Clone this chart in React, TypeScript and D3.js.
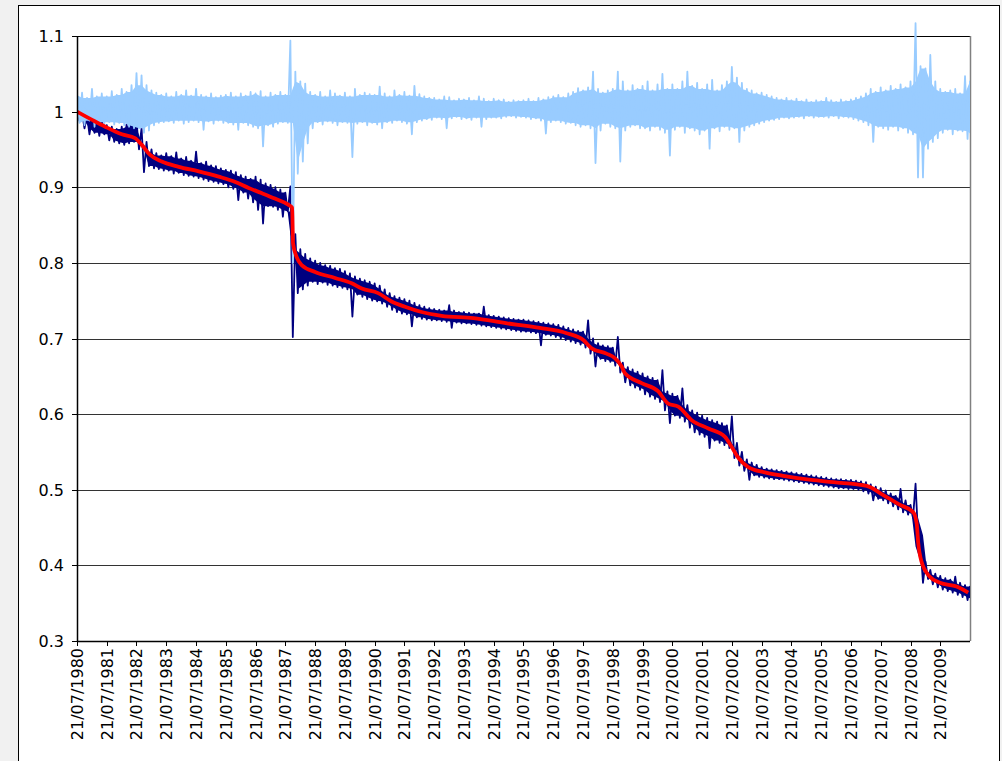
import React from "react";
import * as d3 from "d3";

// samples every 2 months from 21/07/1980: high at the sample, low one month later
const START = new Date(1980, 6, 21);
const END = new Date(2010, 6, 21);

const navyHigh = [
  1.002, 0.999, 0.995, 0.992, 0.990, 0.988,
  0.982, 0.980, 0.977, 0.980, 0.983, 0.986,
  0.987, 0.978, 0.960, 0.950, 0.945, 0.942,
  0.945, 0.941, 0.946, 0.938, 0.940, 0.935,
  0.947, 0.932, 0.934, 0.929, 0.928, 0.925,
  0.923, 0.922, 0.920, 0.916, 0.914, 0.911,
  0.914, 0.910, 0.905, 0.903, 0.900, 0.897,
  0.893, 0.901, 0.838, 0.818, 0.812, 0.806,
  0.803, 0.800, 0.797, 0.796, 0.793, 0.792,
  0.789, 0.786, 0.782, 0.779, 0.777, 0.775,
  0.773, 0.770, 0.765, 0.760, 0.756, 0.754,
  0.752, 0.750, 0.747, 0.744, 0.742, 0.740,
  0.739, 0.738, 0.737, 0.744, 0.737, 0.735,
  0.735, 0.734, 0.733, 0.733, 0.742, 0.731,
  0.730, 0.729, 0.728, 0.727, 0.726, 0.725,
  0.725, 0.724, 0.723, 0.722, 0.721, 0.720,
  0.719, 0.718, 0.716, 0.714, 0.712, 0.710,
  0.709, 0.724, 0.700, 0.694, 0.691, 0.690,
  0.688, 0.702, 0.668, 0.662, 0.659, 0.656,
  0.654, 0.650, 0.648, 0.645, 0.658, 0.630,
  0.627, 0.624, 0.634, 0.612, 0.605, 0.602,
  0.598, 0.595, 0.592, 0.590, 0.588, 0.585,
  0.597, 0.562, 0.550, 0.540, 0.536, 0.533,
  0.530, 0.528, 0.527, 0.526, 0.525, 0.524,
  0.523, 0.522, 0.521, 0.520, 0.519, 0.518,
  0.517, 0.516, 0.515, 0.514, 0.514, 0.513,
  0.513, 0.512, 0.511, 0.510, 0.507, 0.504,
  0.502, 0.499, 0.495, 0.492, 0.501, 0.486,
  0.480, 0.508, 0.425, 0.405, 0.394, 0.389,
  0.386, 0.383, 0.381, 0.385, 0.377, 0.374,
  0.372,
];

const navyLow = [
  0.988, 0.978, 0.970, 0.972, 0.968, 0.970,
  0.962, 0.960, 0.958, 0.956, 0.958, 0.960,
  0.950, 0.920, 0.928, 0.925, 0.924, 0.922,
  0.922, 0.918, 0.919, 0.916, 0.915, 0.914,
  0.912, 0.910, 0.908, 0.907, 0.905, 0.904,
  0.900, 0.898, 0.883, 0.893, 0.885, 0.880,
  0.870, 0.852, 0.875, 0.874, 0.870, 0.861,
  0.868, 0.702, 0.760, 0.765, 0.770, 0.775,
  0.772, 0.774, 0.771, 0.770, 0.768, 0.767,
  0.765, 0.729, 0.758, 0.755, 0.752, 0.750,
  0.749, 0.746, 0.742, 0.738, 0.735, 0.733,
  0.732, 0.716, 0.728, 0.726, 0.725, 0.724,
  0.724, 0.723, 0.722, 0.714, 0.721, 0.720,
  0.720, 0.719, 0.718, 0.717, 0.716, 0.715,
  0.714, 0.713, 0.712, 0.711, 0.710, 0.709,
  0.709, 0.708, 0.707, 0.691, 0.705, 0.704,
  0.702, 0.700, 0.698, 0.696, 0.694, 0.692,
  0.688, 0.680, 0.663, 0.673, 0.670, 0.669,
  0.664, 0.655, 0.642, 0.638, 0.635, 0.632,
  0.626, 0.623, 0.620, 0.616, 0.605, 0.588,
  0.598, 0.595, 0.590, 0.582, 0.576, 0.573,
  0.570, 0.555, 0.565, 0.562, 0.559, 0.555,
  0.542, 0.532, 0.525, 0.513, 0.519, 0.517,
  0.516, 0.515, 0.514, 0.514, 0.513, 0.512,
  0.511, 0.510, 0.509, 0.508, 0.507, 0.506,
  0.505, 0.504, 0.503, 0.502, 0.502, 0.501,
  0.501, 0.500, 0.498, 0.495, 0.486, 0.488,
  0.486, 0.482, 0.478, 0.474, 0.470, 0.467,
  0.463, 0.440, 0.377, 0.382, 0.375, 0.371,
  0.368, 0.366, 0.364, 0.361, 0.358, 0.354,
  0.355,
];

const ratioHigh = [
  1.022, 1.025, 1.018, 1.030, 1.020, 1.024,
  1.020, 1.027, 1.022, 1.030, 1.026, 1.035,
  1.051, 1.048, 1.035, 1.028, 1.025, 1.022,
  1.024, 1.020, 1.026, 1.022, 1.028, 1.021,
  1.030, 1.022, 1.020, 1.024, 1.019, 1.021,
  1.022, 1.025, 1.020, 1.024, 1.021, 1.026,
  1.024, 1.027, 1.020, 1.025, 1.022, 1.026,
  1.022, 1.094, 1.053, 1.040, 1.037, 1.026,
  1.022, 1.026, 1.020, 1.028, 1.024, 1.021,
  1.025, 1.020, 1.030, 1.022, 1.025, 1.023,
  1.022, 1.033, 1.024, 1.020, 1.028, 1.022,
  1.026, 1.021, 1.034, 1.023, 1.020, 1.018,
  1.018, 1.016, 1.020, 1.019, 1.015, 1.017,
  1.016, 1.018, 1.015, 1.020, 1.017, 1.014,
  1.017, 1.015, 1.016, 1.013, 1.015, 1.014,
  1.015, 1.017, 1.014, 1.018, 1.016, 1.019,
  1.020, 1.022, 1.019, 1.024, 1.026, 1.031,
  1.028, 1.032, 1.053, 1.030, 1.025, 1.028,
  1.030, 1.053, 1.040, 1.028, 1.035, 1.030,
  1.034, 1.040, 1.028, 1.036, 1.050, 1.030,
  1.036, 1.030, 1.040, 1.053, 1.034, 1.038,
  1.030, 1.036, 1.042, 1.028, 1.035, 1.040,
  1.059, 1.045, 1.038, 1.030, 1.028, 1.024,
  1.025, 1.022, 1.020, 1.018, 1.016, 1.018,
  1.015, 1.017, 1.014, 1.016, 1.013, 1.015,
  1.014, 1.018, 1.015, 1.013, 1.016, 1.014,
  1.016, 1.018, 1.020, 1.024, 1.030, 1.026,
  1.032, 1.028, 1.034, 1.030, 1.036, 1.032,
  1.040, 1.117, 1.060, 1.057, 1.075, 1.040,
  1.030, 1.026, 1.028, 1.030, 1.024, 1.047,
  1.040,
];

const ratioLow = [
  0.985, 0.982, 0.988, 0.980, 0.986, 0.984,
  0.986, 0.983, 0.985, 0.982, 0.980, 0.978,
  0.978, 0.972, 0.975, 0.982, 0.985, 0.986,
  0.987, 0.985, 0.988, 0.984, 0.986, 0.988,
  0.986, 0.976, 0.987, 0.984, 0.988, 0.985,
  0.985, 0.983, 0.976, 0.985, 0.982, 0.980,
  0.978, 0.954, 0.982, 0.980, 0.984, 0.986,
  0.985, 0.800, 0.918, 0.934, 0.958, 0.978,
  0.986, 0.983, 0.987, 0.985, 0.982, 0.986,
  0.985, 0.940, 0.984, 0.986, 0.982, 0.985,
  0.983, 0.978, 0.986, 0.985, 0.988, 0.986,
  0.984, 0.970, 0.986, 0.988, 0.990, 0.989,
  0.992, 0.990, 0.978, 0.991, 0.993, 0.990,
  0.991, 0.989, 0.992, 0.980, 0.990, 0.992,
  0.992, 0.991, 0.993, 0.994, 0.992, 0.993,
  0.992, 0.990, 0.991, 0.988, 0.971, 0.986,
  0.988, 0.986, 0.984, 0.985, 0.982, 0.980,
  0.982, 0.978, 0.932, 0.975, 0.984, 0.980,
  0.978, 0.934, 0.975, 0.980, 0.982, 0.978,
  0.978, 0.975, 0.980, 0.976, 0.972, 0.942,
  0.976, 0.980, 0.972, 0.978, 0.975, 0.970,
  0.975, 0.951, 0.978, 0.974, 0.980, 0.976,
  0.978, 0.960, 0.975, 0.980, 0.982, 0.984,
  0.986, 0.988, 0.989, 0.990, 0.992, 0.991,
  0.992, 0.993, 0.991, 0.994, 0.992, 0.993,
  0.993, 0.992, 0.994, 0.991, 0.993, 0.992,
  0.990, 0.988, 0.986, 0.982, 0.960, 0.980,
  0.978, 0.976, 0.980, 0.975, 0.978, 0.972,
  0.970, 0.913, 0.913, 0.951, 0.960, 0.965,
  0.972, 0.976, 0.970, 0.975, 0.974, 0.964,
  0.968,
];

// smoothed line, knots as decimal years
const redTimes = [
  1980.55, 1981.06, 1981.5, 1982.06, 1982.5, 1982.73, 1983.0, 1983.4, 1983.97,
  1984.64, 1985.31, 1985.87, 1986.32, 1986.77, 1987.2, 1987.65, 1987.78, 1987.81,
  1987.93, 1988.1, 1988.55, 1989.22, 1989.78, 1990.12, 1990.67, 1991.12, 1991.57,
  1992.13, 1992.8, 1993.87, 1995.0, 1996.1, 1997.0, 1997.56, 1997.84, 1998.34,
  1998.62, 1998.85, 1998.96, 1999.52, 2000.08, 2000.41, 2000.75, 2001.2, 2001.76,
  2002.32, 2002.54, 2002.77, 2003.1, 2003.66, 2004.33, 2005.22, 2005.96, 2007.08,
  2007.64, 2008.2, 2008.65, 2008.76, 2008.81, 2008.92, 2009.2, 2009.54, 2010.1,
  2010.49,
];
const redValues = [
  1.0, 0.989, 0.98, 0.97, 0.965, 0.956, 0.943, 0.934, 0.927,
  0.921, 0.914, 0.907, 0.899, 0.892, 0.885, 0.877, 0.873, 0.826,
  0.808, 0.797, 0.788, 0.78, 0.773, 0.766, 0.76, 0.749, 0.742,
  0.735, 0.73, 0.727, 0.72, 0.714, 0.707, 0.698, 0.687, 0.68,
  0.674, 0.663, 0.654, 0.641, 0.63, 0.614, 0.61, 0.592, 0.581,
  0.57, 0.557, 0.542, 0.53, 0.523, 0.518, 0.513, 0.51, 0.505,
  0.493, 0.48, 0.47, 0.455, 0.43, 0.405, 0.385, 0.377, 0.372,
  0.364,
];

const tickYears = [
  1980, 1981, 1982, 1983, 1984, 1985, 1986, 1987, 1988, 1989,
  1990, 1991, 1992, 1993, 1994, 1995, 1996, 1997, 1998, 1999,
  2000, 2001, 2002, 2003, 2004, 2005, 2006, 2007, 2008, 2009,
];
const yTicks = [0.3, 0.4, 0.5, 0.6, 0.7, 0.8, 0.9, 1.0, 1.1];

const FONT = "'DejaVu Sans', Verdana, sans-serif";
const L = 77, R = 970, T = 36, B = 641;

const fromYear = (t: number) => {
  const y = Math.floor(t);
  const a = +new Date(y, 0, 1);
  const b = +new Date(y + 1, 0, 1);
  return new Date(a + (t - y) * (b - a));
};

type Pt = { date: Date; v: number };
type Span = { hiDate: Date; loDate: Date; hi: number; lo: number; coreHi: number; coreLo: number };

// the dense daily line reads as a solid core with thin spikes poking out:
// core = what the neighbouring samples share, spikes = the zigzag stroke
const spans = (hi: number[], lo: number[]): Span[] =>
  hi.map((h, k) => {
    const nb = [k - 1, k, k + 1].filter((i) => i >= 0 && i < hi.length);
    return {
      hiDate: d3.timeMonth.offset(START, 2 * k),
      loDate: d3.timeMonth.offset(START, 2 * k + 1),
      hi: h,
      lo: lo[k],
      coreHi: d3.min(nb, (i) => hi[i]) as number,
      coreLo: d3.max(nb, (i) => lo[i]) as number,
    };
  });

const zigzag = (s: Span[]): Pt[] =>
  s.flatMap((d) => [
    { date: d.hiDate, v: d.hi },
    { date: d.loDate, v: d.lo },
  ]);

export default function App() {
  const x = d3.scaleTime().domain([START, END]).range([L, R]);
  const y = d3.scaleLinear().domain([0.3, 1.1]).range([B, T]);

  const line = d3
    .line<Pt>()
    .x((d) => x(d.date))
    .y((d) => y(d.v));
  const smooth = d3
    .line<Pt>()
    .x((d) => x(d.date))
    .y((d) => y(d.v))
    .curve(d3.curveMonotoneX);
  const core = d3
    .area<Span>()
    .x0((d) => x(d.loDate))
    .x1((d) => x(d.hiDate))
    .y0((d) => y(d.coreLo))
    .y1((d) => y(d.coreHi));

  const navyS = spans(navyHigh, navyLow);
  const ratioS = spans(ratioHigh, ratioLow);
  const red = redTimes.map((t, i) => ({ date: fromYear(t), v: redValues[i] }));

  return (
    <svg
      width={1002}
      height={761}
      style={{ position: "absolute", left: 0, top: 0, display: "block" }}
    >
      <defs>
        <clipPath id="plotClip">
          <rect x={L} y={0} width={R - L} height={B} />
        </clipPath>
      </defs>
      <rect x={0} y={0} width={1002} height={761} fill="#f1f1f1" />
      <rect x={18.5} y={5.5} width={981} height={780} fill="#fff" stroke="#000" />

      {/* grid */}
      {yTicks.slice(1, -1).map((v) => (
        <line
          key={v}
          x1={L}
          x2={R}
          y1={Math.round(y(v)) + 0.5}
          y2={Math.round(y(v)) + 0.5}
          stroke="#333"
          strokeWidth={1}
        />
      ))}
      <line x1={L} x2={R} y1={T + 0.5} y2={T + 0.5} stroke="#000" />
      <line x1={R + 0.5} x2={R + 0.5} y1={T} y2={B} stroke="#808080" strokeWidth={1.5} />

      {/* series */}
      <g clipPath="url(#plotClip)" strokeLinejoin="round">
        <path d={core(navyS) || ""} fill="#000080" />
        <path d={line(zigzag(navyS)) || ""} fill="none" stroke="#000080" strokeWidth={1.8} />
        <path d={core(ratioS) || ""} fill="#99ccff" />
        <path d={line(zigzag(ratioS)) || ""} fill="none" stroke="#99ccff" strokeWidth={1.8} />
        <path d={smooth(red) || ""} fill="none" stroke="#ff0000" strokeWidth={3.8} />
      </g>

      {/* axes */}
      <line x1={L + 0.5} x2={L + 0.5} y1={T} y2={B + 1} stroke="#000" strokeWidth={1.5} />
      <line x1={L} x2={R} y1={B + 0.5} y2={B + 0.5} stroke="#000" strokeWidth={1.5} />
      {yTicks.map((v) => (
        <g key={v} transform={`translate(0,${Math.round(y(v)) + 0.5})`}>
          <line x1={L - 5} x2={L} stroke="#000" />
          <text
            x={64}
            dy="0.36em"
            textAnchor="end"
            fontFamily={FONT}
            fontSize={16}
            fill="#000"
          >
            {String(v)}
          </text>
        </g>
      ))}
      {tickYears.map((yr) => {
        const px = Math.round(x(new Date(yr, 6, 21))) + 0.5;
        return (
          <g key={yr}>
            <line x1={px} x2={px} y1={B} y2={B + 5} stroke="#000" />
            <text
              transform={`translate(${px},648) rotate(-90)`}
              dy="0.36em"
              textAnchor="end"
              fontFamily={FONT}
              fontSize={16}
              fill="#000"
            >
              {`21/07/${yr}`}
            </text>
          </g>
        );
      })}
    </svg>
  );
}
